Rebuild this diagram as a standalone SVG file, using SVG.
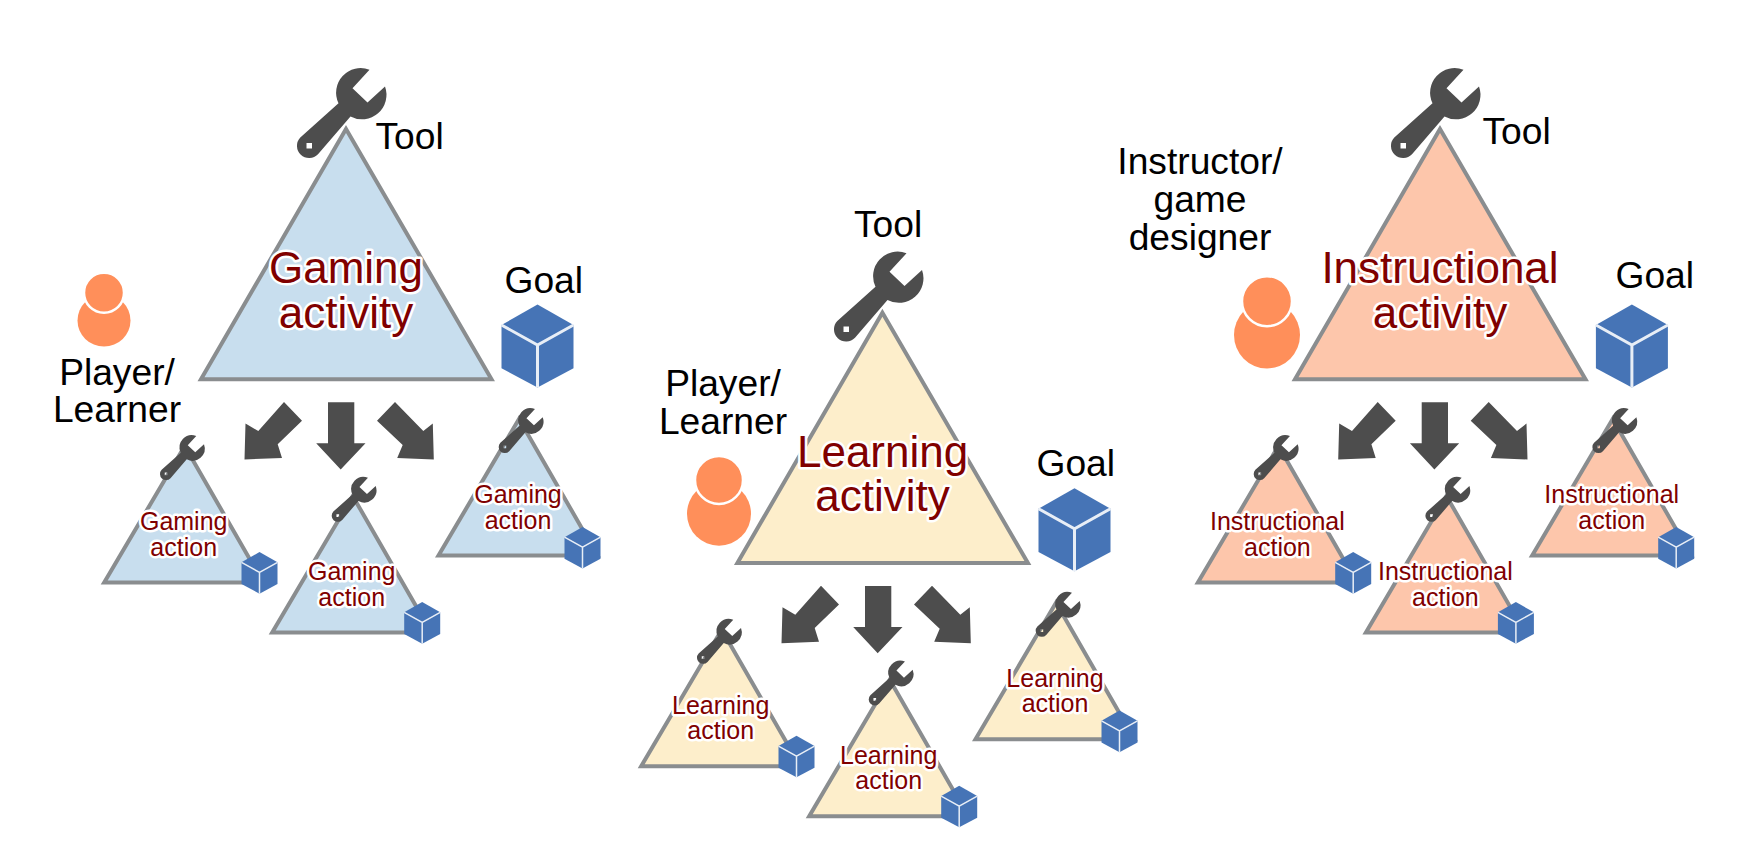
<svg xmlns="http://www.w3.org/2000/svg" width="1737" height="864" viewBox="0 0 1737 864">
<style>
text{font-family:"Liberation Sans",Arial,sans-serif}
.lbl{font-size:37.2px;fill:#000}
.mid{text-anchor:middle}
.big,.sm{text-anchor:middle;fill:#800000;stroke:#fff;stroke-linejoin:round;paint-order:stroke fill}
.big{font-size:44px;stroke-width:5px}
.sm{font-size:25px;stroke-width:5px}
.tri{stroke:#8a8d8f;stroke-linejoin:miter}
.tb{stroke-width:4}
.ts{stroke-width:4}
.g{fill:#c8deee}
.l{fill:#fdeecb}
.i{fill:#fdc6ab}
.wrench{fill:#4d4d4d;fill-rule:evenodd}
.arrow{fill:#4d4d4d}
.cube{fill:#4674b6}
.cl{fill:none;stroke:#e8eef6;stroke-width:3}
.p{fill:#ff8f5a}
.ph{fill:#ff8f5a;stroke:#fff;stroke-width:2.5}
</style>
<defs>
<path id="wrench" class="wrench" d="M7.5 -23.4L-9.5 -5L5.5 9.3L23 -6.7A24.5 24.5 0 0 1 -11.5 23.3L-44 61A12 12 0 0 1 -61.7 44.3L-23.5 10A24.5 24.5 0 0 1 7.5 -23.4ZM-55.5 49.8h5.5v5.5h-5.5z"/>
<g id="cube"><path class="cube" d="M0 -41.8L36 -21.3V22L0 41.3L-36 22V-21.3Z"/><path class="cl" d="M-36 -21.3L0 -1.3L36 -21.3M0 -1.3V41.3"/></g>
<path id="tb" d="M346 129L201 379.3H491.5Z"/>
<path id="ts" d="M0 0L-80.5 136.5H78.5Z"/>
<g id="arrows">
<path class="arrow" d="M284 402L302 420.7L277.7 444.3L282 458L244.5 459.5L245.5 423.5L258.3 431Z"/>
<path class="arrow" d="M328 402.3H354.3V443.3H365.5L340.7 469.5L316.2 443.3H328Z"/>
<path class="arrow" d="M395 402L377 420.7L402.7 445L397.2 458L433.8 459.5L432.8 423.5L423.3 431Z"/>
</g>
</defs>

<g id="connectors">
<use href="#arrows"/>
<use href="#arrows" transform="translate(537 183.7)"/>
<use href="#arrows" transform="translate(1093.7 0)"/>
</g>

<g id="gaming-activity">
<use href="#wrench" x="362" y="93.2"/>
<use href="#tb" class="tri tb g"/>
<text class="big" x="346" y="283">Gaming</text>
<text class="big" x="346" y="327.5">activity</text>
<text class="lbl" x="375.5" y="149.3">Tool</text>
</g>
<g id="gaming-goal"><use href="#cube" x="537.5" y="346.3"/><text class="lbl" x="504.5" y="292.7">Goal</text></g>
<g id="gaming-subject">
<ellipse class="p" cx="104" cy="320.5" rx="26.5" ry="26"/><circle class="ph" cx="104" cy="292.7" r="20"/>
<text class="lbl mid" x="117" y="384.8">Player/</text><text class="lbl mid" x="117" y="422.2">Learner</text>
</g>
<g id="gaming-action-1" transform="translate(184.7 446)">
<use href="#ts" class="tri ts g"/><use href="#wrench" transform="translate(7.8 1.7) scale(.5)"/>
<text class="sm" x="-1" y="84">Gaming</text><text class="sm" x="-1" y="109.5">action</text>
<use href="#cube" transform="translate(74.8 127) scale(.5)"/>
</g>
<g id="gaming-action-2" transform="translate(352.7 496)">
<use href="#ts" class="tri ts g"/><use href="#wrench" transform="translate(11.5 -6.6) scale(.5)"/>
<text class="sm" x="-1" y="84">Gaming</text><text class="sm" x="-1" y="109.5">action</text>
<use href="#cube" transform="translate(69.5 127) scale(.5)"/>
</g>
<g id="gaming-action-3" transform="translate(519 419)">
<use href="#ts" class="tri ts g"/><use href="#wrench" transform="translate(12.2 1.7) scale(.5)"/>
<text class="sm" x="-1" y="84">Gaming</text><text class="sm" x="-1" y="109.5">action</text>
<use href="#cube" transform="translate(63.5 128.8) scale(.5)"/>
</g>

<g id="learning-activity">
<use href="#wrench" x="899" y="276.7"/>
<use href="#tb" class="tri tb l" transform="translate(536.4 183.7)"/>
<text class="big" x="882.6" y="466.5">Learning</text>
<text class="big" x="882.6" y="511">activity</text>
<text class="lbl" x="854" y="237">Tool</text>
</g>
<g id="learning-goal"><use href="#cube" x="1074.5" y="530"/><text class="lbl" x="1036.5" y="476">Goal</text></g>
<g id="learning-subject">
<ellipse class="p" cx="719" cy="513.7" rx="32" ry="32"/><circle class="ph" cx="719" cy="480" r="24"/>
<text class="lbl mid" x="723" y="395.5">Player/</text><text class="lbl mid" x="723" y="433.8">Learner</text>
</g>
<g id="learning-action-1" transform="translate(721.7 629.7)">
<use href="#ts" class="tri ts l"/><use href="#wrench" transform="translate(7.8 1.7) scale(.5)"/>
<text class="sm" x="-1" y="84">Learning</text><text class="sm" x="-1" y="109.5">action</text>
<use href="#cube" transform="translate(74.8 127) scale(.5)"/>
</g>
<g id="learning-action-2" transform="translate(889.7 679.7)">
<use href="#ts" class="tri ts l"/><use href="#wrench" transform="translate(11.5 -6.6) scale(.5)"/>
<text class="sm" x="-1" y="84">Learning</text><text class="sm" x="-1" y="109.5">action</text>
<use href="#cube" transform="translate(69.5 127) scale(.5)"/>
</g>
<g id="learning-action-3" transform="translate(1056 602.7)">
<use href="#ts" class="tri ts l"/><use href="#wrench" transform="translate(12.2 1.7) scale(.5)"/>
<text class="sm" x="-1" y="84">Learning</text><text class="sm" x="-1" y="109.5">action</text>
<use href="#cube" transform="translate(63.5 128.8) scale(.5)"/>
</g>

<g id="instructional-activity">
<use href="#wrench" x="1456" y="93.2"/>
<use href="#tb" class="tri tb i" transform="translate(1094 0)"/>
<text class="big" x="1440" y="283">Instructional</text>
<text class="big" x="1440" y="327.5">activity</text>
<text class="lbl" x="1482.5" y="143.7">Tool</text>
</g>
<g id="instructional-goal"><use href="#cube" x="1631.9" y="346.3"/><text class="lbl" x="1615.5" y="287.7">Goal</text></g>
<g id="instructional-subject">
<ellipse class="p" cx="1267" cy="335" rx="33" ry="33.5"/><circle class="ph" cx="1267" cy="301.2" r="25"/>
<text class="lbl mid" x="1200" y="174.3">Instructor/</text><text class="lbl mid" x="1200" y="211.9">game</text><text class="lbl mid" x="1200" y="249.6">designer</text>
</g>
<g id="instructional-action-1" transform="translate(1278.4 446)">
<use href="#ts" class="tri ts i"/><use href="#wrench" transform="translate(7.8 1.7) scale(.5)"/>
<text class="sm" x="-1" y="84">Instructional</text><text class="sm" x="-1" y="109.5">action</text>
<use href="#cube" transform="translate(74.8 127) scale(.5)"/>
</g>
<g id="instructional-action-2" transform="translate(1446.4 496)">
<use href="#ts" class="tri ts i"/><use href="#wrench" transform="translate(11.5 -6.6) scale(.5)"/>
<text class="sm" x="-1" y="84">Instructional</text><text class="sm" x="-1" y="109.5">action</text>
<use href="#cube" transform="translate(69.5 127) scale(.5)"/>
</g>
<g id="instructional-action-3" transform="translate(1612.7 419)">
<use href="#ts" class="tri ts i"/><use href="#wrench" transform="translate(12.2 1.7) scale(.5)"/>
<text class="sm" x="-1" y="84">Instructional</text><text class="sm" x="-1" y="109.5">action</text>
<use href="#cube" transform="translate(63.5 128.8) scale(.5)"/>
</g>
</svg>
